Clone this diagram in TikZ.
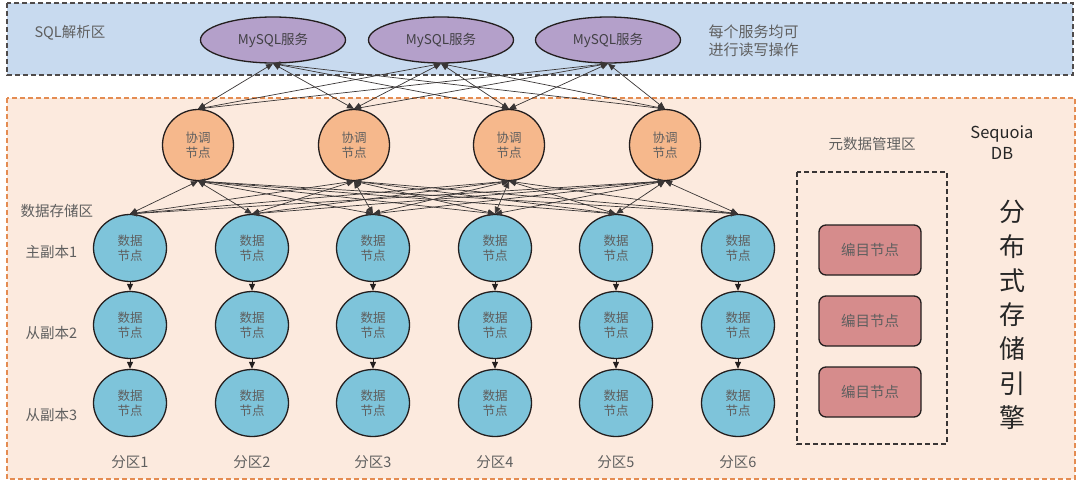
\documentclass[tikz,border=0pt]{standalone}
\usepackage{fontspec}
\setmainfont{Noto Sans CJK SC}
\usetikzlibrary{arrows.meta,shapes.geometric}
\definecolor{sqlfill}{RGB}{200,218,239}
\definecolor{engfill}{RGB}{252,234,222}
\definecolor{engdraw}{RGB}{228,140,82}
\definecolor{myfill}{RGB}{180,160,202}
\definecolor{cofill}{RGB}{246,184,140}
\definecolor{dafill}{RGB}{126,196,218}
\definecolor{cafill}{RGB}{214,140,140}
\definecolor{txt}{RGB}{95,95,95}
\definecolor{edge}{RGB}{35,30,30}
\begin{document}
\begin{tikzpicture}[x=1pt,y=-1pt,
  lbl/.style={text=txt,font=\fontsize{14.5}{17}\selectfont},
  mysql/.style={ellipse,draw=edge,line width=1.3pt,fill=myfill,minimum width=145pt,minimum height=46pt,text=txt!80!myfill!60!black,font=\fontsize{13.5}{15}\selectfont},
  coord/.style={circle,draw=edge,line width=1.3pt,fill=cofill,minimum size=71pt,inner sep=0pt,align=center,text=txt,font=\fontsize{12.5}{15.5}\selectfont},
  data/.style={ellipse,draw=edge,line width=1.3pt,fill=dafill,minimum width=73pt,minimum height=67pt,inner sep=0pt,align=center,text=txt,font=\fontsize{12.5}{15.5}\selectfont},
  cat/.style={rectangle,rounded corners=7pt,draw=edge,line width=1.3pt,fill=cafill,minimum width=102pt,minimum height=50pt,text=txt,font=\fontsize{14.5}{16}\selectfont},
  conn/.style={{Triangle[length=7pt,width=6pt]}-{Triangle[length=7pt,width=6pt]},draw=edge!90,line width=0.7pt},
  down/.style={-{Triangle[length=7pt,width=6pt]},draw=edge,line width=0.9pt}
]
\useasboundingbox (0,0) rectangle (1080,485);
% zones
\draw[fill=sqlfill,draw=edge!80,line width=1.3pt,dash pattern=on 5pt off 3pt] (7,3) rectangle (1073,75);
\draw[fill=engfill,draw=engdraw,line width=1.3pt,dash pattern=on 5pt off 3pt] (7,98) rectangle (1075,479);
\node[lbl,anchor=west] (sqlz) at (31,33) {SQL解析区};
\node[lbl,anchor=west,align=left,font=\fontsize{15}{18}\selectfont] (note) at (705,41) {每个服务均可\\进行读写操作};
% MySQL
\node[mysql] (m1) at (273,40) {MySQL服务};
\node[mysql] (m2) at (441,40) {MySQL服务};
\node[mysql] (m3) at (608,40) {MySQL服务};
% coords
\foreach \i/\x in {1/198,2/354,3/509,4/665}{
  \node[coord] (c\i) at (\x,145) {协调\\节点};
}
% data
\foreach \j/\x in {1/130,2/252,3/373,4/495,5/616,6/738}{
  \node[data] (d1\j) at (\x,248) {数据\\节点};
  \node[data] (d2\j) at (\x,325) {数据\\节点};
  \node[data] (d3\j) at (\x,403) {数据\\节点};
  \node[lbl] (p\j) at (\x,462) {分区\j};
  \draw[down] (d1\j) -- (d2\j);
  \draw[down] (d2\j) -- (d3\j);
}
% connectors
\foreach \i in {1,...,4}{
  \foreach \m in {1,2,3}{
    \draw[conn] (c\i.north) -- (m\m.south);
  }
  \foreach \j in {1,...,6}{
    \draw[conn] (d1\j.north) -- (c\i.south);
  }
}
% left labels
\node[lbl,anchor=west] (dz) at (17,211) {数据存储区};
\node[lbl,anchor=west] (r1) at (22,252) {主副本1};
\node[lbl,anchor=west] (r2) at (22,333) {从副本2};
\node[lbl,anchor=west] (r3) at (22,415) {从副本3};
% metadata
\node[lbl] (mz) at (872,144) {元数据管理区};
\draw[draw=edge!90,line width=1.3pt,dash pattern=on 5pt off 3pt] (797,172) rectangle (947,444);
\node[cat] (k1) at (870,250) {编目节点};
\node[cat] (k2) at (870,321) {编目节点};
\node[cat] (k3) at (870,392) {编目节点};
% title
\node[text=black!85,align=center,font=\fontsize{16.5}{21}\selectfont] (sdb) at (1002,143) {Sequoia\\DB};
\node[text=black!85,align=center,font=\fontsize{26}{34.3}\selectfont] (eng) at (1012,315) {分\\布\\式\\存\\储\\引\\擎};
\end{tikzpicture}
\end{document}
